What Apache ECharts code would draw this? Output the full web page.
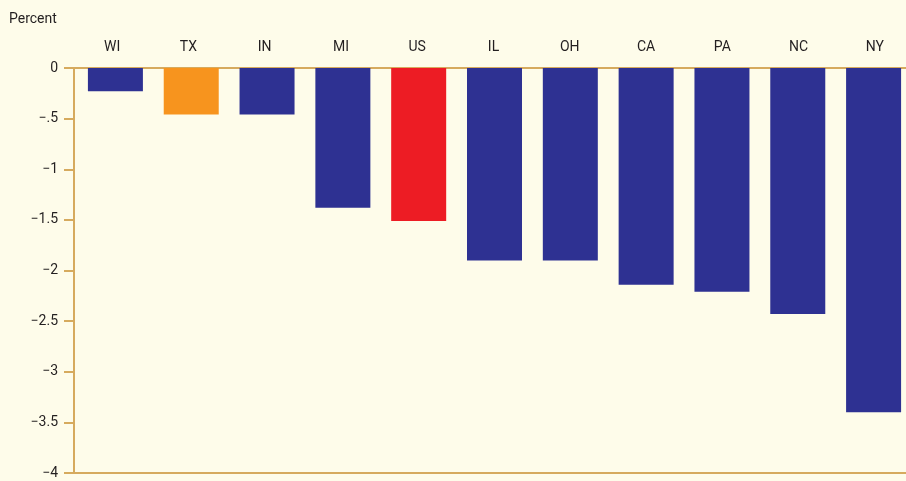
<!DOCTYPE html>
<html>
<head>
<meta charset="utf-8">
<script src="https://cdn.jsdelivr.net/npm/echarts@6/dist/echarts.min.js"></script>
<style>
  html, body { margin: 0; padding: 0; background: #fefcea; }
  #chart { width: 906px; height: 481px; }
</style>
</head>
<body>
<div id="chart"></div>
<script>
const states = ['WI', 'TX', 'IN', 'MI', 'US', 'IL', 'OH', 'CA', 'PA', 'NC', 'NY']
const changes = [-0.23, -0.46, -0.46, -1.38, -1.51, -1.9, -1.9, -2.14, -2.21, -2.43, -3.4]
const barColors = ['#2e3192', '#f7941e', '#2e3192', '#2e3192', '#ed1c24', '#2e3192', '#2e3192', '#2e3192', '#2e3192', '#2e3192', '#2e3192']

const axisColor = '#d6aa5e'
const textColor = '#231f20'
const font = 'Roboto, sans-serif'

const chart = echarts.init(document.getElementById('chart'))

// grid 0 carries the visible axes, grid 1 the bars (they sit a touch off the tick bands in the original)
chart.setOption({
  backgroundColor: '#fefcea',
  animation: false,
  title: {
    text: 'Percent',
    left: 4,
    top: 7,
    textStyle: { fontSize: 14, fontWeight: 'normal', color: textColor, fontFamily: font },
  },
  grid: [
    { left: 74, right: -7, top: 68, bottom: 8, outerBoundsMode: 'none', containLabel: false },
    { left: 77.5, right: -5.5, top: 68, bottom: 8, outerBoundsMode: 'none', containLabel: false },
  ],
  xAxis: [
    {
      type: 'category',
      gridIndex: 0,
      position: 'top',
      data: states,
      axisLine: { lineStyle: { color: axisColor, width: 2 } },
      axisTick: { length: 6, lineStyle: { color: axisColor, width: 2 } },
      axisLabel: { color: textColor, fontSize: 14, fontFamily: font, margin: 14 },
    },
    {
      type: 'category',
      gridIndex: 0,
      position: 'bottom',
      data: states,
      axisLine: { onZero: false, lineStyle: { color: axisColor, width: 2 } },
      axisTick: { show: false },
      axisLabel: { show: false },
    },
    {
      type: 'category',
      gridIndex: 1,
      data: states,
      show: false,
    },
  ],
  yAxis: [
    {
      type: 'value',
      gridIndex: 0,
      min: -4,
      max: 0,
      interval: 0.5,
      axisLine: { show: true, lineStyle: { color: axisColor, width: 2 } },
      axisTick: { show: true, length: 10, lineStyle: { color: axisColor, width: 2 } },
      splitLine: { show: false },
      axisLabel: {
        color: textColor,
        fontSize: 14,
        fontFamily: font,
        margin: 16,
        formatter: (v) => {
          if (v === 0) return '0'
          return String(v).replace('-0.', '-.').replace('-', '\u2212')
        },
      },
    },
    {
      type: 'value',
      gridIndex: 1,
      min: -4,
      max: 0,
      show: false,
    },
  ],
  series: [
    {
      type: 'bar',
      xAxisIndex: 2,
      yAxisIndex: 1,
      barWidth: 55,
      data: changes.map((v, i) => ({ value: v, itemStyle: { color: barColors[i] } })),
    },
  ],
})
</script>
</body>
</html>
